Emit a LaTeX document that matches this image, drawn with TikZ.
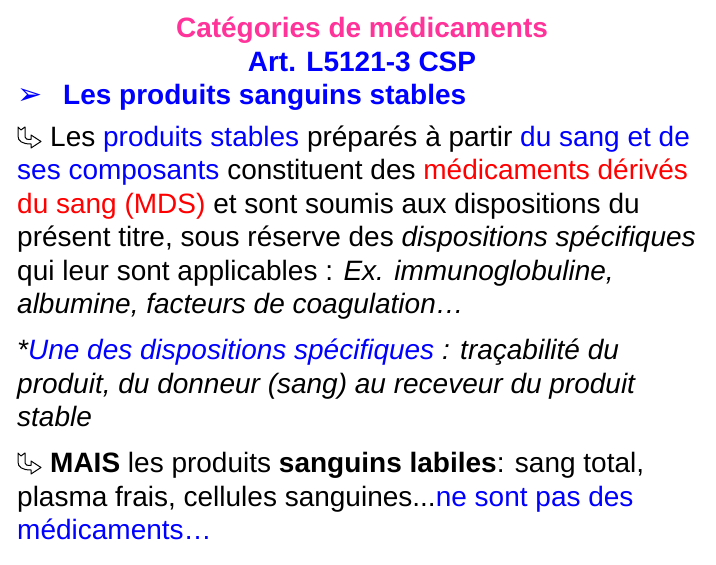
\documentclass[tikz,border=0pt]{standalone}
\usepackage{fontspec}
\setmainfont{Liberation Sans}
\newfontfamily\symfont{DejaVu Sans}
\usepackage{xcolor}
\definecolor{titlepink}{HTML}{FF3399}
\definecolor{textblue}{HTML}{0000FF}
\definecolor{textred}{HTML}{FF0000}
\tikzset{
  title/.style={anchor=base, inner sep=0pt, font=\bfseries\fontsize{28}{33.5}\selectfont},
  body/.style={anchor=base west, inner sep=0pt, align=left, font=\fontsize{28}{33.5}\selectfont},
  bodyit/.style={body, font=\itshape\fontsize{28}{33.5}\selectfont},
  hookarr/.pic={
    \draw[fill=white, line width=1pt, line join=round]
      (1,22) -- (4,19) -- (8,22) -- (8,12) .. controls (8,10) and (10,9.5) .. (14,9.5)
      -- (14,14) -- (24,7.5) -- (14,1) -- (14,5) .. controls (5,5) and (1,8) .. (1,13) -- cycle;
  }
}

\begin{document}
\begin{tikzpicture}[x=1pt,y=1pt]
  \useasboundingbox (0,0) rectangle (716,565);

  \node[title, text=titlepink] (cat) at (362,527) {Catégories de médicaments};
  \node[title, text=textblue] (art) at (362,493) {Art. L5121-3 CSP};

  \node[anchor=base west, inner sep=0pt, text=textblue, font=\symfont\fontsize{30}{30}\selectfont] (bul) at (17,460) {➢};
  \node[body, text=textblue] (stab) at (63,460) {\bfseries Les produits sanguins stables};

  % premier paragraphe
  \node[body] (par1) at (17,251) {\hspace*{33pt}Les \textcolor{textblue}{produits stables} préparés à partir \textcolor{textblue}{du sang et de}\\
    \textcolor{textblue}{ses composants} constituent des \textcolor{textred}{médicaments dérivés}\\
    \textcolor{textred}{du sang (MDS)} et sont soumis aux dispositions du\\
    présent titre, sous réserve des \textit{dispositions spécifiques}\\
    qui leur sont applicables : \textit{Ex. immunoglobuline,}\\
    \textit{albumine, facteurs de coagulation…}};
  \pic at (17,416) {hookarr};

  % disposition specifique
  \node[bodyit] (par2) at (17,138) {*\textcolor{textblue}{Une des dispositions spécifiques} : traçabilité du\\
    produit, du donneur (sang) au receveur du produit\\
    stable};

  % produits labiles
  \node[body] (par3) at (17,25) {\hspace*{33pt}\textbf{MAIS} les produits \textbf{sanguins labiles}: sang total,\\
    plasma frais, cellules sanguines...\textcolor{textblue}{ne sont pas des}\\
    \textcolor{textblue}{médicaments…}};
  \pic at (17,90) {hookarr};
\end{tikzpicture}
\end{document}
